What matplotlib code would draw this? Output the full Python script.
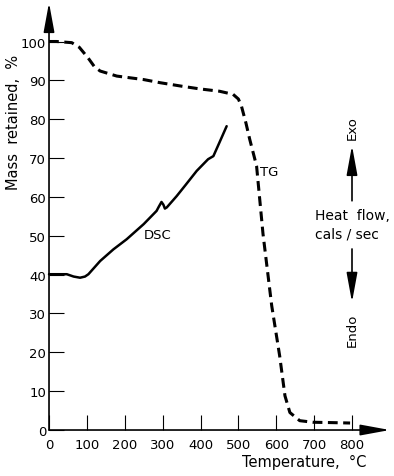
import matplotlib
matplotlib.use("Agg")
import matplotlib.pyplot as plt

# TG curve (mass retained, %)
tg_temp = [0, 20, 60, 80, 103, 120, 135, 179, 250, 293, 350, 398, 450, 486, 500,
           508, 520, 530, 548, 565, 588, 609, 623, 636, 662, 697, 750, 795]
tg_mass = [100, 100, 99.7, 98.5, 95.8, 93.5, 92.4, 91.1, 90.2, 89.4, 88.5, 87.8,
           87.2, 86.4, 85.2, 83.4, 79, 74.8, 68, 50.5, 32, 19.1, 8.8, 4.5, 2.4,
           2.0, 1.9, 1.8]

# DSC curve (heat flow, arbitrary scale drawn on the same axes)
dsc_temp = [0, 47, 65, 82, 95, 104, 135, 170, 205, 250, 284, 290, 297, 302, 306,
            311, 337, 360, 390, 420, 434, 450, 469]
dsc_val = [40.1, 40.1, 39.5, 39.2, 39.5, 40.1, 43.5, 46.5, 49.1, 53, 56.4, 57.5,
           58.7, 58, 57, 57.3, 60.2, 63, 66.7, 69.7, 70.5, 74, 78.2]

x_ticks = list(range(0, 900, 100))
y_ticks = list(range(0, 110, 10))

fs = 9.5
fs_lab = 10.5

fig = plt.figure(figsize=(3.94, 4.77), dpi=100)
ax = fig.add_axes([0.1244, 0.0964, 0.769, 0.8145])
ax.set_xlim(0, 800)
ax.set_ylim(0, 100)
for s in ax.spines.values():
    s.set_visible(False)

ax.set_xticks(x_ticks)
ax.set_yticks(y_ticks)
ax.tick_params(direction='in', length=10.5, width=0.8, labelsize=fs)
ax.tick_params(axis='x', pad=6)
ax.tick_params(axis='y', pad=2)

# axis lines with arrowheads
arrow_kw = dict(arrowstyle='-|>,head_length=18,head_width=3.3', mutation_scale=1,
                color='black', lw=1.2, shrinkA=0, shrinkB=0)
ax.annotate('', xy=(900, 0), xytext=(0, 0), arrowprops=arrow_kw, annotation_clip=False)
ax.annotate('', xy=(0, 110), xytext=(0, 0), arrowprops=arrow_kw, annotation_clip=False)

# curves
ax.plot(tg_temp, tg_mass, color='black', lw=2.2, linestyle=(0, (3.2, 1.8)),
        clip_on=False)
ax.plot(dsc_temp, dsc_val, color='black', lw=1.8, solid_capstyle='round',
        clip_on=False)

ax.text(288, 50.2, 'DSC', fontsize=fs, ha='center', va='center')
ax.text(557, 66.5, 'TG', fontsize=fs, ha='left', va='center')

# heat flow direction arrows
ax.text(702, 53, 'Heat  flow,\ncals / sec', fontsize=10, ha='left', va='center',
        linespacing=1.35, clip_on=False)
ax.annotate('', xy=(800, 73.2), xytext=(800, 59), arrowprops=arrow_kw,
            annotation_clip=False)
ax.annotate('', xy=(800, 32.9), xytext=(800, 46.6), arrowprops=arrow_kw,
            annotation_clip=False)
ax.text(800, 78, 'Exo', fontsize=fs, rotation=90, ha='center', va='center',
        clip_on=False)
ax.text(800, 26, 'Endo', fontsize=fs, rotation=90, ha='center', va='center',
        clip_on=False)

ax.text(839, -9.3, 'Temperature,  °C', fontsize=fs_lab, ha='right', va='baseline',
        clip_on=False)
fig.text(14 / 394, 1 - 122 / 477, 'Mass  retained,  %', fontsize=fs_lab, rotation=90,
         ha='center', va='center')

fig.patch.set_facecolor('white')
fig.savefig('out.png', dpi=100, facecolor='white')
